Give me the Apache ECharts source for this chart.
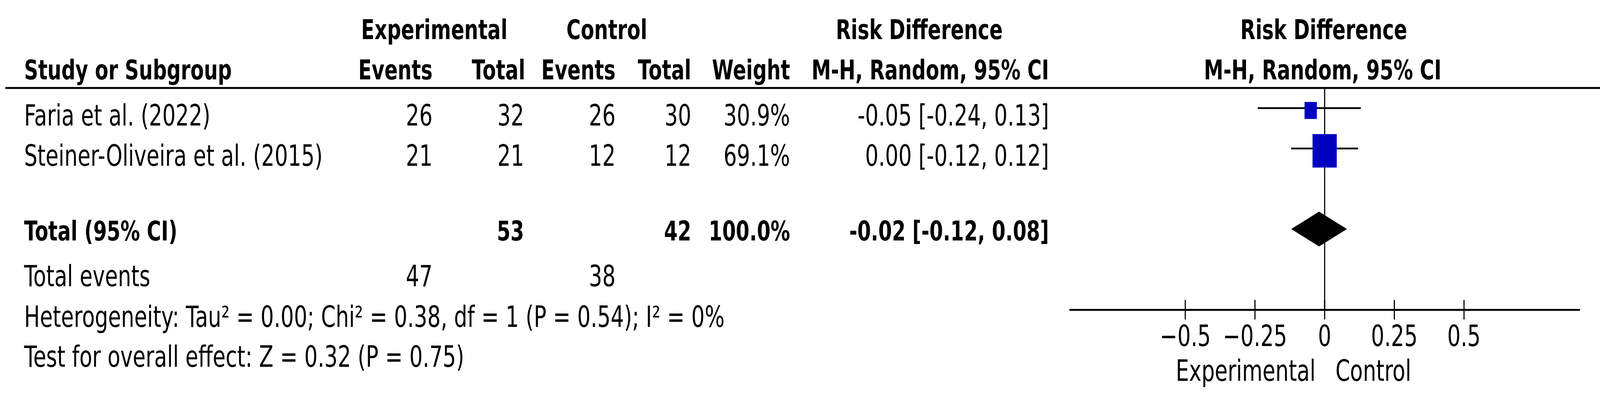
<!DOCTYPE html>
<html>
<head>
<meta charset="utf-8">
<script src="https://cdn.jsdelivr.net/npm/echarts@6/dist/echarts.min.js"></script>
<style>
html,body{margin:0;padding:0;background:#fff;overflow:hidden;}
#chart{width:5648px;height:1046px;transform-origin:0 0;}
</style>
</head>
<body>
<div id="chart"></div>
<script>
// ---- data ----
const studies = ['Faria et al. (2022)', 'Steiner-Oliveira et al. (2015)'];
const expEvents = [26, 21];
const expTotal = [32, 21];
const ctrlEvents = [26, 12];
const ctrlTotal = [30, 12];
const weights = [30.9, 69.1];
const riskDiff = [-0.05, 0.00];
const ciLow = [-0.24, -0.12];
const ciHigh = [0.13, 0.12];
const studyRows = [1, 2];
const pooledRD = [-0.02, -0.12, 0.08];
const pooledRow = 4;
const pooledTotals = [53, 42];
const pooledWeight = '100.0%';
const totalEvents = [47, 38];
const xTicks = [-0.5, -0.25, 0, 0.25, 0.5];
const hetText = 'Heterogeneity: Tau\u00B2 = 0.00; Chi\u00B2 = 0.38, df = 1 (P = 0.54); I\u00B2 = 0%';
const effectText = 'Test for overall effect: Z = 0.32 (P = 0.75)';
const favourLeft = 'Experimental';
const favourRight = 'Control';

// ---- fit the 5648-wide layout into the actual window ----
const W = 5648, H = 1046;
const el = document.getElementById('chart');
const sx = Math.min(1, window.innerWidth / W);
const sy = Math.min(1, window.innerHeight / H);
el.style.transform = 'scale(' + sx + ',' + sy + ')';

// ---- layout ----
const FONT = 'DejaVu Sans';
const REG = 74, BOLD = 69;
const baselines = {h1: 97, h2: 200, r1: 317, r2: 420, tot: 612, ev: 728, het: 832, eff: 934, fav: 970};
const col = {study: 85, eEv: 1527, eTot: 1850, cEv: 2173, cTot: 2440, wt: 2789, ci: 3703};

function fmt(v){ return v.toFixed(2); }
function ciStr(e, l, h){ return fmt(e) + ' [' + fmt(l) + ', ' + fmt(h) + ']'; }

const graphics = [];
function txt(s, x, base, align, bold){
  const size = bold ? BOLD : REG;
  graphics.push({
    type: 'text', x: x, y: base - 0.3 * size, silent: true,
    style: {text: String(s), fill: '#000', font: (bold ? 'bold ' : '') + size + 'px "' + FONT + '"',
      textAlign: align, textVerticalAlign: 'middle', align: align, verticalAlign: 'middle'}
  });
}
// headers
txt('Experimental', 1533, baselines.h1, 'center', true);
txt('Control', 2142, baselines.h1, 'center', true);
txt('Risk Difference', 3245, baselines.h1, 'center', true);
txt('Risk Difference', 4673, baselines.h1, 'center', true);
txt('Study or Subgroup', col.study, baselines.h2, 'left', true);
txt('Events', col.eEv, baselines.h2, 'right', true);
txt('Total', 1854, baselines.h2, 'right', true);
txt('Events', col.cEv, baselines.h2, 'right', true);
txt('Total', col.cTot, baselines.h2, 'right', true);
txt('Weight', col.wt, baselines.h2, 'right', true);
txt('M-H, Random, 95% CI', col.ci, baselines.h2, 'right', true);
txt('M-H, Random, 95% CI', 4669, baselines.h2, 'center', true);
// study rows
const rowBase = [baselines.r1, baselines.r2];
studies.forEach(function(s, i){
  const b = rowBase[i];
  txt(s, col.study, b, 'left', false);
  txt(expEvents[i], col.eEv, b, 'right', false);
  txt(expTotal[i], col.eTot, b, 'right', false);
  txt(ctrlEvents[i], col.cEv, b, 'right', false);
  txt(ctrlTotal[i], col.cTot, b, 'right', false);
  txt(weights[i].toFixed(1) + '%', col.wt, b, 'right', false);
  txt(ciStr(riskDiff[i], ciLow[i], ciHigh[i]), col.ci, b, 'right', false);
});
// total row
txt('Total (95% CI)', col.study, baselines.tot, 'left', true);
txt(pooledTotals[0], col.eTot, baselines.tot, 'right', true);
txt(pooledTotals[1], col.cTot, baselines.tot, 'right', true);
txt(pooledWeight, col.wt, baselines.tot, 'right', true);
txt(ciStr(pooledRD[0], pooledRD[1], pooledRD[2]), col.ci, baselines.tot, 'right', true);
txt('Total events', col.study, baselines.ev, 'left', false);
txt(totalEvents[0], col.eEv, baselines.ev, 'right', false);
txt(totalEvents[1], col.cEv, baselines.ev, 'right', false);
txt(hetText, col.study, baselines.het, 'left', false);
txt(effectText, col.study, baselines.eff, 'left', false);
txt(favourLeft, 4644, baselines.fav, 'right', false);
txt(favourRight, 4714, baselines.fav, 'left', false);
// header rule
graphics.push({type: 'line', silent: true, shape: {x1: 19, y1: 225, x2: 5648, y2: 225}, style: {stroke: '#000', lineWidth: 5}});

const XMIN = -0.914, XMAX = 0.914;

const chart = echarts.init(el, null, {renderer: 'svg', width: W, height: H});
chart.setOption({
  animation: false,
  backgroundColor: '#fff',
  grid: {left: 3777, right: 73, top: 225, bottom: 254, containLabel: false},
  xAxis: [
    {
      type: 'value', min: XMIN, max: XMAX, position: 'bottom',
      splitLine: {show: false},
      axisLine: {show: true, lineStyle: {color: '#000', width: 5}},
      axisTick: {show: true, length: 25, inside: false, customValues: xTicks, lineStyle: {color: '#000', width: 4}},
      axisLabel: {show: true, customValues: xTicks, margin: 30, color: '#000', fontSize: REG, fontFamily: FONT,
        formatter: function(v){ return String(v).replace('-', '\u2212'); }}
    },
    {
      type: 'value', min: XMIN, max: XMAX, position: 'bottom',
      splitLine: {show: false},
      axisLine: {show: false},
      axisTick: {show: true, length: 25, inside: true, customValues: xTicks, lineStyle: {color: '#000', width: 4}},
      axisLabel: {show: false}
    }
  ],
  yAxis: {type: 'value', min: 0.5, max: 6.0, inverse: true, show: false, splitLine: {show: false}},
  graphic: graphics,
  series: [
    {
      type: 'custom', name: 'ci', z: 2,
      data: studies.map(function(s, i){ return [ciLow[i], ciHigh[i], studyRows[i]]; }),
      renderItem: function(params, api){
        const y = api.value(2);
        const p1 = api.coord([api.value(0), y]);
        const p2 = api.coord([api.value(1), y]);
        return {type: 'line', shape: {x1: p1[0], y1: p1[1], x2: p2[0], y2: p2[1]}, style: {stroke: '#000', lineWidth: 4.5}};
      },
      markLine: {
        silent: true, symbol: 'none', z: 1,
        label: {show: false},
        lineStyle: {color: '#000', width: 4, type: 'solid'},
        data: [{xAxis: 0}]
      }
    },
    {
      type: 'scatter', name: 'box', z: 4,
      symbol: 'rect',
      symbolOffset: [0, 6],
      symbolSize: function(v){ return 9.5 + 1.1 * v[2]; },
      itemStyle: {color: '#0000C0', opacity: 1},
      data: studies.map(function(s, i){ return [riskDiff[i], studyRows[i], weights[i]]; })
    },
    {
      type: 'custom', name: 'diamond', z: 4,
      data: [[pooledRD[0], pooledRD[1], pooledRD[2], pooledRow]],
      renderItem: function(params, api){
        const y = api.value(3);
        const c = api.coord([api.value(0), y]);
        const l = api.coord([api.value(1), y]);
        const r = api.coord([api.value(2), y]);
        const h = 44.5;
        return {type: 'polygon', shape: {points: [[l[0], c[1]], [c[0], c[1] - h], [r[0], c[1]], [c[0], c[1] + h]]}, style: {fill: '#000'}};
      }
    }
  ]
});
</script>
</body>
</html>
